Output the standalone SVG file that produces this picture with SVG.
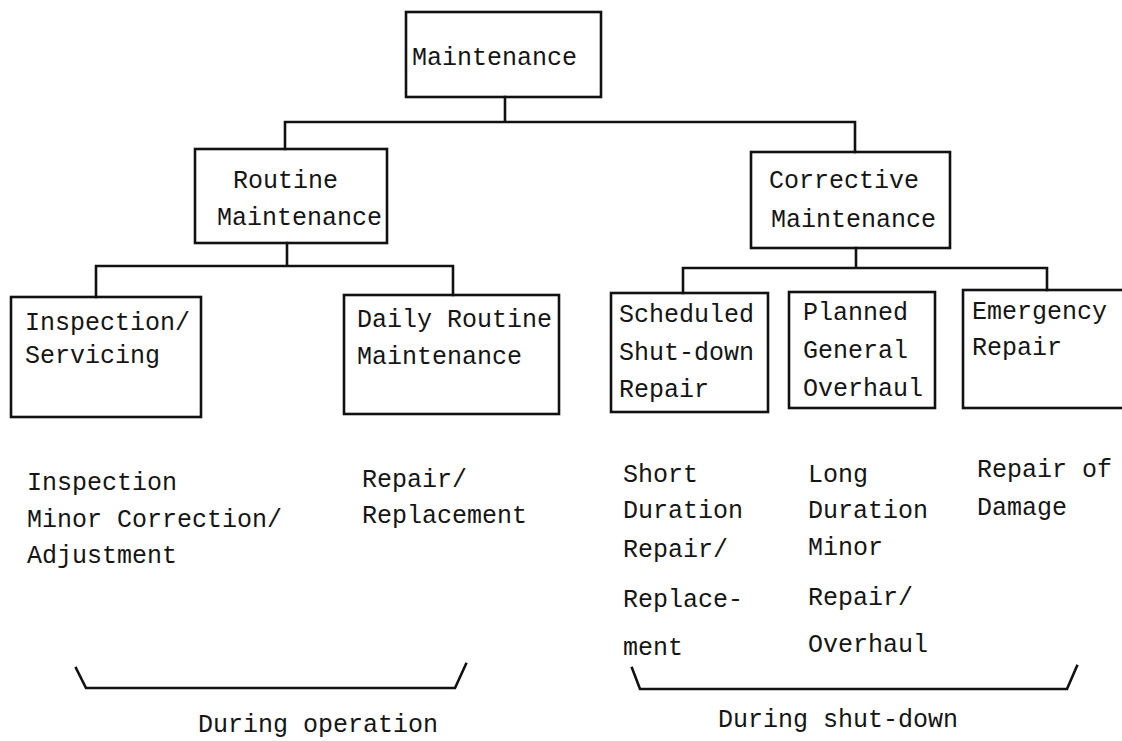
<svg xmlns="http://www.w3.org/2000/svg" width="1122" height="741" viewBox="0 0 1122 741">
<style>
.box{fill:none;stroke:#111;stroke-width:2.6}
.ln{fill:none;stroke:#111;stroke-width:2.6;stroke-linecap:square}
text{font-family:"Liberation Mono","Courier New",monospace;font-size:25px;fill:#151515}
</style>
<rect width="1122" height="741" fill="#fff"/>
<g id="connectors">
<path class="ln" d="M505 97V122M285 122H855M285 122V149M855 122V152"/>
<path class="ln" d="M287 243V266M96 266H453M96 266V297M453 266V295"/>
<path class="ln" d="M856 248V268M683 268H1047M683 268V293M1047 268V290"/>
<path class="ln" d="M76 668L86 688H455L466 664"/>
<path class="ln" d="M632 668L640 689H1067L1077 666"/>
</g>
<g id="maintenance"><rect class="box" x="406" y="12" width="195" height="85"/><text x="412" y="65">Maintenance</text></g>
<g id="routine"><rect class="box" x="195" y="149" width="192" height="94"/><text x="233" y="188">Routine</text><text x="217" y="225">Maintenance</text></g>
<g id="corrective"><rect class="box" x="751" y="152" width="199" height="96"/><text x="769" y="188">Corrective</text><text x="771" y="227">Maintenance</text></g>
<g id="inspection"><rect class="box" x="11" y="297" width="190" height="120"/><text x="25" y="330">Inspection/</text><text x="25" y="363">Servicing</text></g>
<g id="daily"><rect class="box" x="344" y="295" width="215" height="119"/><text x="357" y="327">Daily Routine</text><text x="357" y="364">Maintenance</text></g>
<g id="scheduled"><rect class="box" x="611" y="293" width="157" height="119"/><text x="619" y="322">Scheduled</text><text x="619" y="360">Shut-down</text><text x="619" y="397">Repair</text></g>
<g id="planned"><rect class="box" x="789" y="292" width="146" height="116"/><text x="803" y="320">Planned</text><text x="803" y="358">General</text><text x="803" y="396">Overhaul</text></g>
<g id="emergency"><rect class="box" x="963" y="290" width="170" height="118"/><text x="972" y="319">Emergency</text><text x="972" y="355">Repair</text></g>
<g id="notes">
<text x="27" y="490">Inspection</text><text x="27" y="527">Minor Correction/</text><text x="27" y="563">Adjustment</text>
<text x="362" y="487">Repair/</text><text x="362" y="523">Replacement</text>
<text x="623" y="482">Short</text><text x="623" y="518">Duration</text><text x="623" y="557">Repair/</text><text x="623" y="607">Replace-</text><text x="623" y="655">ment</text>
<text x="808" y="482">Long</text><text x="808" y="518">Duration</text><text x="808" y="555">Minor</text><text x="808" y="605">Repair/</text><text x="808" y="652">Overhaul</text>
<text x="977" y="477">Repair of</text><text x="977" y="515">Damage</text>
<text x="198" y="732">During operation</text>
<text x="718" y="727">During shut-down</text>
</g>
</svg>
